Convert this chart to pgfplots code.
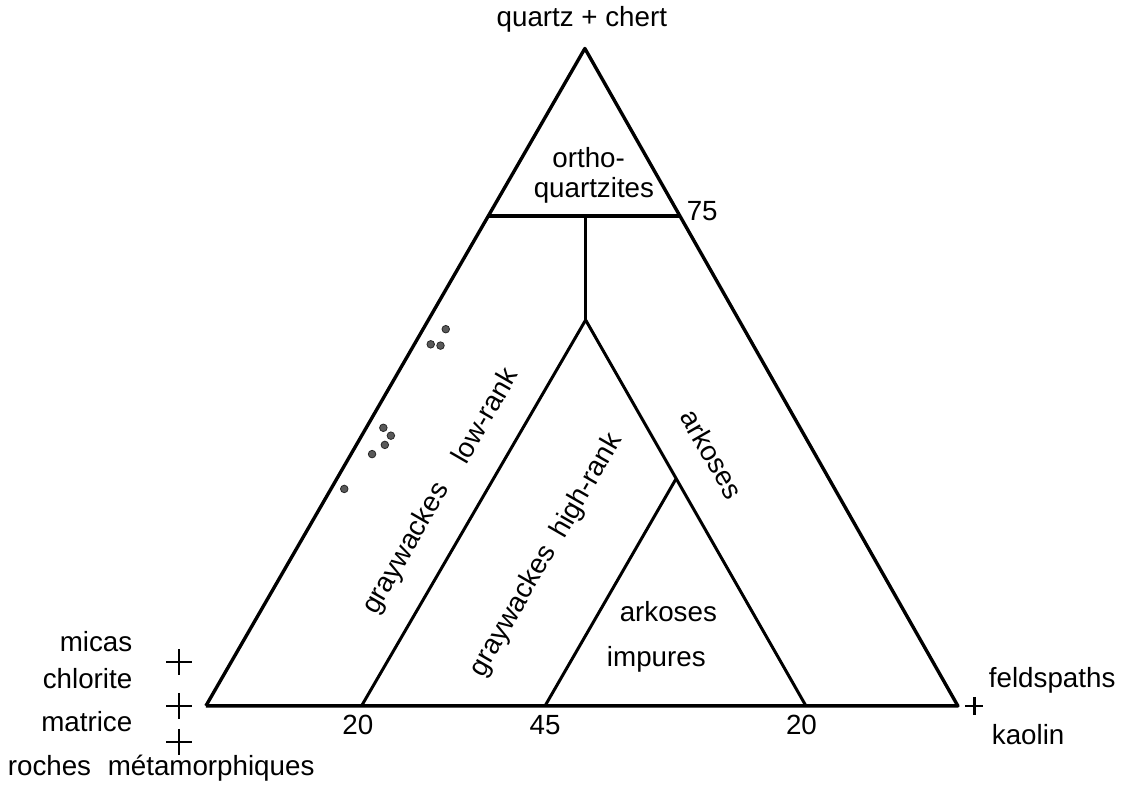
\documentclass[border=0pt]{standalone}
\usepackage{pgfplots}
\pgfplotsset{compat=1.18}
\usepackage{fontspec}
\setmainfont{Liberation Sans}

\begin{document}
\begin{tikzpicture}[font=\fontsize{14}{17}\selectfont]
\begin{axis}[
    hide axis,
    scale only axis,
    width=561bp, height=395bp,
    xmin=-27.38, xmax=121.03,
    ymin=-12.41, ymax=107.11,
    clip=false,
]
% outer triangle (x along base in %, y = quartz in %)
\addplot[black, line width=1.7bp, line join=round] coordinates {(0,0) (100,0) (50.4,100) (0,0)};
% 75 % quartz limit
\addplot[black, line width=1.7bp] coordinates {(37.6,74.5) (62.9,74.5)};
% stem and branches
\addplot[black, line width=1.5bp] coordinates {(50.5,74.5) (50.5,58.7)};
\addplot[black, line width=1.5bp, line join=round] coordinates {(20.7,0) (50.5,58.7) (79.8,0)};
\addplot[black, line width=1.5bp] coordinates {(45.1,0) (62.5,34.5)};
% samples
\addplot[only marks, mark=*, mark size=1.9bp, mark options={fill=black!65, draw=black!85}] coordinates {
    (31.9,57.3) (29.9,55.0) (31.2,54.8)
    (23.6,42.3) (24.6,41.1) (23.8,39.7) (22.1,38.3)
    (18.4,33.0)
};
% end-member crosses
\addplot[only marks, mark=+, mark size=6.5bp, mark options={line width=1bp}] coordinates {(-3.57,6.66) (-3.57,0) (-3.57,-5.45)};
\addplot[only marks, mark=+, mark size=4.5bp, mark options={line width=1.4bp}] coordinates {(102.2,0)};

% pole labels
\node at (axis cs:50.0,104.4) {quartz + chert};
\node[anchor=east] at (axis cs:-8.86,9.8) {micas};
\node[anchor=east] at (axis cs:-8.86,4.1) {chlorite};
\node[anchor=east] at (axis cs:-8.86,-2.4) {matrice};
\node at (axis cs:-5.95,-9.5) {roches\hspace{0.6em}métamorphiques};
\node[anchor=west] at (axis cs:103.2,3.9) {feldspaths};
\node[anchor=west] at (axis cs:103.6,-4.4) {kaolin};

% limits
\node at (axis cs:66.0,75.3) {75};
\node at (axis cs:20.2,-2.9) {20};
\node at (axis cs:45.1,-2.9) {45};
\node at (axis cs:79.2,-2.9) {20};

% fields
\node at (axis cs:50.9,83.4) {ortho-};
\node at (axis cs:51.6,78.4) {quartzites};
\node[rotate=60] at (axis cs:26.7,23.9) {graywackes};
\node[rotate=60] at (axis cs:37.0,44.2) {low-rank};
\node[rotate=60] at (axis cs:40.9,14.4) {graywackes};
\node[rotate=60] at (axis cs:50.7,33.4) {high-rank};
\node[rotate=-60] at (axis cs:67.3,38.3) {arkoses};
\node at (axis cs:61.5,14.4) {arkoses};
\node at (axis cs:59.9,7.1) {impures};

\path (rel axis cs:0,0) rectangle (rel axis cs:1,1);
\end{axis}
\end{tikzpicture}
\end{document}
